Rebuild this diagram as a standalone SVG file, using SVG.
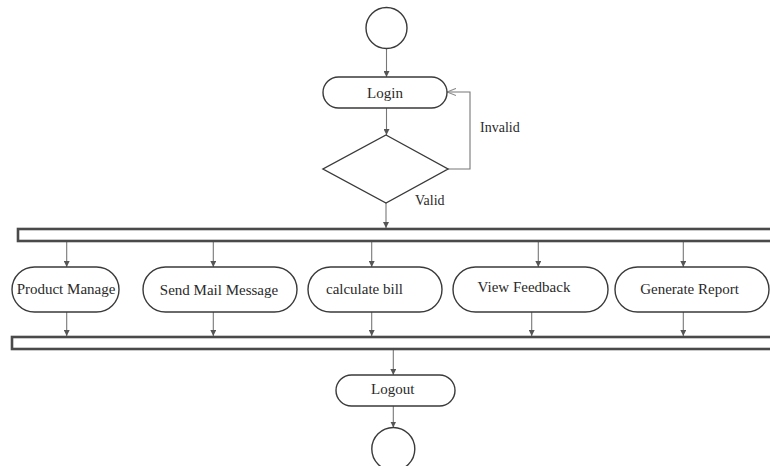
<svg xmlns="http://www.w3.org/2000/svg" width="770" height="466" viewBox="0 0 770 466">
<defs>
<style>
.node{fill:#fff;stroke:#3a3a3a;stroke-width:1.4}
.bar{fill:#fff;stroke:#4a4a4a;stroke-width:2.6}
.lbl{font-family:"Liberation Serif","Times New Roman",serif;font-size:15px;fill:#2a2a2a;text-anchor:middle;dominant-baseline:central}
.side{font-family:"Liberation Serif","Times New Roman",serif;font-size:14px;fill:#2a2a2a;dominant-baseline:central}
.conn{fill:none;stroke:#777;stroke-width:1.1}
</style>
<marker id="ah" viewBox="0 0 10 10" refX="10" refY="5" markerWidth="6" markerHeight="6" orient="auto" markerUnits="userSpaceOnUse">
<path d="M0,0 L10,5 L0,10 z" fill="#555"/>
</marker>
<marker id="open" viewBox="0 0 10 10" refX="10" refY="5" markerWidth="9" markerHeight="9" orient="auto" markerUnits="userSpaceOnUse">
<path d="M0,1 L10,5 L0,9" fill="none" stroke="#888" stroke-width="1.2"/>
</marker>
</defs>
<rect width="770" height="466" fill="#fff"/>
<g id="connectors">
<line class="conn" x1="386.5" y1="48.5" x2="386.5" y2="77" marker-end="url(#ah)"/>
<line class="conn" x1="386.5" y1="108" x2="386.5" y2="135" marker-end="url(#ah)"/>
<polyline class="conn" points="448,169 470,169 470,92 447,92" stroke="#aaa" marker-end="url(#open)"/>
<line class="conn" x1="386" y1="203" x2="386" y2="228" marker-end="url(#ah)"/>
<line class="conn" x1="66.7" y1="242" x2="66.7" y2="267" marker-end="url(#ah)"/>
<line class="conn" x1="213.3" y1="242" x2="213.3" y2="267" marker-end="url(#ah)"/>
<line class="conn" x1="371.7" y1="242" x2="371.7" y2="267" marker-end="url(#ah)"/>
<line class="conn" x1="538.3" y1="242" x2="538.3" y2="267" marker-end="url(#ah)"/>
<line class="conn" x1="683.3" y1="242" x2="683.3" y2="267" marker-end="url(#ah)"/>
<line class="conn" x1="66.7" y1="312" x2="66.7" y2="336" marker-end="url(#ah)"/>
<line class="conn" x1="213.3" y1="312" x2="213.3" y2="336" marker-end="url(#ah)"/>
<line class="conn" x1="371.7" y1="312" x2="371.7" y2="336" marker-end="url(#ah)"/>
<line class="conn" x1="531.7" y1="312" x2="531.7" y2="336" marker-end="url(#ah)"/>
<line class="conn" x1="683.3" y1="312" x2="683.3" y2="336" marker-end="url(#ah)"/>
<line class="conn" x1="393.3" y1="350" x2="393.3" y2="375" marker-end="url(#ah)"/>
<line class="conn" x1="393.3" y1="406" x2="393.3" y2="427.5" marker-end="url(#ah)"/>
<text class="side" x="480" y="127">Invalid</text>
<text class="side" x="415" y="200">Valid</text>
</g>
<g id="start"><circle class="node" cx="386.5" cy="28" r="20.5"/></g>
<g id="login"><rect class="node" x="323" y="77" width="124" height="31" rx="15.5"/><text class="lbl" x="385" y="93">Login</text></g>
<g id="decision"><polygon class="node" points="386,135 448,169 386,203 323,169"/></g>
<g id="fork"><rect class="bar" x="18" y="229" width="770" height="12"/></g>
<g id="product-manage"><rect class="node" x="12" y="267" width="107" height="45" rx="22.5"/><text class="lbl" x="66" y="289">Product Manage</text></g>
<g id="send-mail"><rect class="node" x="143" y="267" width="154" height="45" rx="22.5"/><text class="lbl" x="219" y="290">Send Mail Message</text></g>
<g id="calculate-bill"><rect class="node" x="308" y="267" width="134" height="45" rx="22.5"/><text class="lbl" x="364.5" y="289">calculate bill</text></g>
<g id="view-feedback"><rect class="node" x="453" y="267" width="155" height="45" rx="22.5"/><text class="lbl" x="524" y="287">View Feedback</text></g>
<g id="generate-report"><rect class="node" x="615" y="267" width="154" height="45" rx="22.5"/><text class="lbl" x="689.5" y="289">Generate Report</text></g>
<g id="join"><rect class="bar" x="12" y="337" width="770" height="12"/></g>
<g id="logout"><rect class="node" x="336" y="375" width="119" height="31" rx="15.5"/><text class="lbl" x="392.7" y="389">Logout</text></g>
<g id="end"><circle class="node" cx="393.3" cy="449" r="21.5"/></g>
</svg>
